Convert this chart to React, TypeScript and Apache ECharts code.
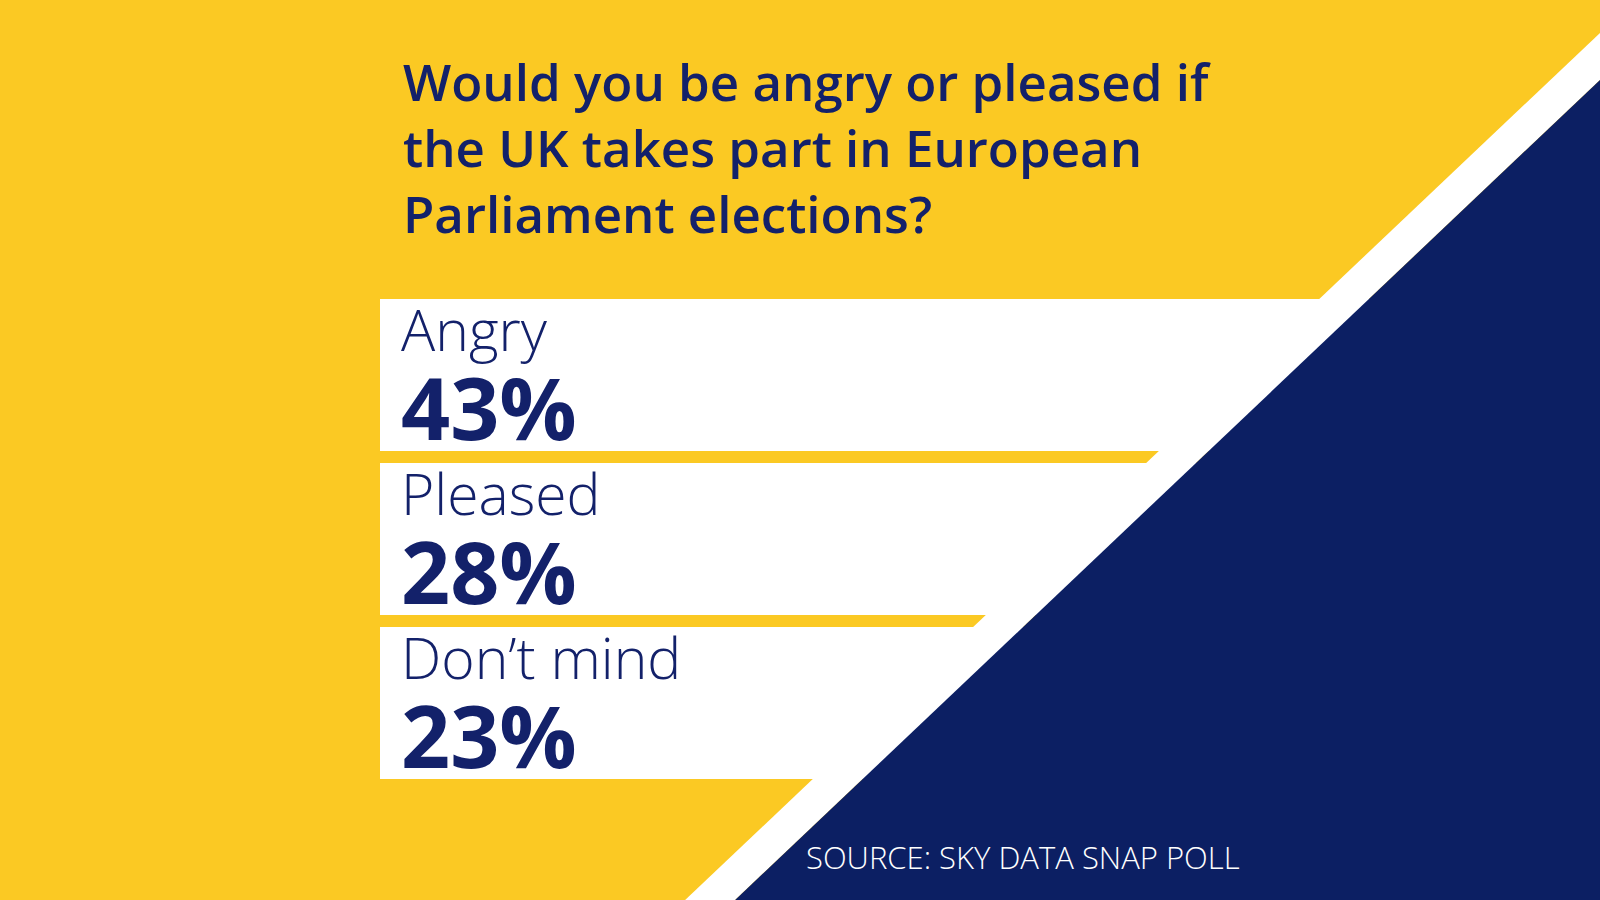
import React, { useEffect, useRef } from 'react';
import * as echarts from 'echarts';

const categories = ['Angry', 'Pleased', 'Don\u2019t mind'];
const values = [43, 28, 23];
const titleLines = [
  'Would you be angry or pleased if',
  'the UK takes part in European',
  'Parliament elections?',
];
const sourceText = 'SOURCE: SKY DATA SNAP POLL';

const YELLOW = '#FBC923';
const NAVY = '#0C1F63';
const TEXT = '#13216A';
const FONT = 'Open Sans';

export default function App() {
  const ref = useRef<HTMLDivElement>(null);
  useEffect(() => {
    const chart = echarts.init(ref.current!, null, { renderer: 'svg' });
    chart.setOption({
      animation: false,
      backgroundColor: YELLOW,
      title: [
        {
          text: titleLines.join('\n'),
          left: 403,
          top: 48,
          padding: 0,
          z: 300,
          textStyle: { fontFamily: FONT, fontSize: 51, fontWeight: 600, lineHeight: 66, color: TEXT },
        },
        {
          text: sourceText,
          left: 806,
          top: 840,
          padding: 0,
          z: 300,
          zlevel: 1,
          textStyle: { fontFamily: FONT, fontSize: 31, fontWeight: 300, lineHeight: 33, color: '#FFFFFF' },
        },
      ],
      grid: { left: 380, right: 0, top: 293, height: 492 },
      xAxis: { type: 'value', min: 0, max: 100, show: false },
      yAxis: { type: 'category', data: categories, inverse: true, show: false },
      series: [
        {
          type: 'bar',
          data: values,
          barWidth: 152,
          itemStyle: { color: '#FFFFFF' },
          showBackground: true,
          backgroundStyle: { color: '#FFFFFF' },
          label: {
            show: true,
            position: [21, -2],
            formatter: (p: any) => `{a|${p.name}}\n{b|${p.value}%}`,
            rich: {
              a: { fontFamily: FONT, fontSize: 57, fontWeight: 300, lineHeight: 64, color: TEXT },
              b: { fontFamily: FONT, fontSize: 86, fontWeight: 700, lineHeight: 91, color: TEXT },
            },
          },
        },
      ],
      graphic: [
        {
          type: 'polygon',
          z: 100,
          shape: { points: [[1602, 31], [1602, 78], [733, 902], [683, 902]] },
          style: { fill: '#FFFFFF' },
        },
        {
          type: 'polygon',
          z: 101,
          shape: { points: [[1602, 78], [1602, 902], [733, 902]] },
          style: { fill: NAVY },
        },
      ],
    });
    return () => chart.dispose();
  }, []);
  return <div ref={ref} style={{ position: 'fixed', left: 0, top: 0, width: 1600, height: 900 }} />;
}
